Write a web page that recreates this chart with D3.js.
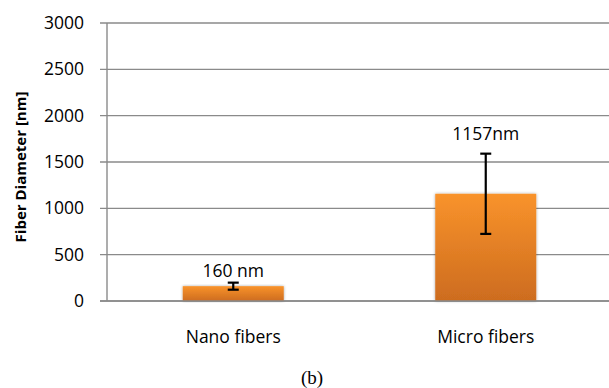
<!DOCTYPE html>
<html>
<head>
<meta charset="utf-8">
<script src="https://cdn.jsdelivr.net/npm/d3@7"></script>
<style>
  body { margin: 0; background: #fff; }
  svg { display: block; }
</style>
</head>
<body>
<div id="chart"></div>
<script>
// values
var categories = ["Nano fibers", "Micro fibers"];
var means = [160, 1157];
var errors = [38, 433];
var barLabels = ["160 nm", "1157nm"];
var yTicks = [0, 500, 1000, 1500, 2000, 2500, 3000];

var W = 609, H = 388;
var plotLeft = 107, plotRight = 612, plotTop = 23, plotBottom = 301;

var svg = d3.select("#chart").append("svg")
  .attr("width", W).attr("height", H);

var defs = svg.append("defs");
var grad = defs.append("linearGradient")
  .attr("id", "barGrad").attr("x1", 0).attr("y1", 0).attr("x2", 0).attr("y2", 1);
grad.append("stop").attr("offset", "0%").attr("stop-color", "#f9932b");
grad.append("stop").attr("offset", "100%").attr("stop-color", "#cd6c1f");

var shadow = defs.append("filter").attr("id", "soft")
  .attr("x", "-10%").attr("y", "-10%").attr("width", "120%").attr("height", "120%");
shadow.append("feGaussianBlur").attr("in", "SourceAlpha").attr("stdDeviation", 1.5).attr("result", "b");
shadow.append("feComponentTransfer").attr("in", "b").attr("result", "s")
  .append("feFuncA").attr("type", "linear").attr("slope", 0.35);
var merge = shadow.append("feMerge");
merge.append("feMergeNode").attr("in", "s");
merge.append("feMergeNode").attr("in", "SourceGraphic");

var x = d3.scaleBand().domain(categories).range([plotLeft, plotRight])
  .paddingInner(0.6).paddingOuter(0.3);
var y = d3.scaleLinear().domain([0, 3000]).range([plotBottom, plotTop]);

// gridlines + ticks
svg.append("g").selectAll("line").data(yTicks).enter().append("line")
  .attr("x1", plotLeft - 7).attr("x2", W)
  .attr("y1", function(d) { return y(d); })
  .attr("y2", function(d) { return y(d); })
  .attr("stroke", "#8a8a8a").attr("stroke-width", 1.4);

// y axis line
svg.append("line")
  .attr("x1", plotLeft).attr("x2", plotLeft).attr("y1", y(3000)).attr("y2", y(0))
  .attr("stroke", "#8a8a8a").attr("stroke-width", 1.4);

// tick labels
svg.append("g").selectAll("text").data(yTicks).enter().append("text")
  .attr("x", 84).attr("y", function(d) { return y(d); })
  .attr("dy", "0.35em").attr("text-anchor", "end")
  .attr("font-family", "Open Sans").attr("font-size", "17.5px")
  .attr("fill", "#000")
  .text(function(d) { return d; });

// bars
svg.append("g").selectAll("rect").data(means).enter().append("rect")
  .attr("x", function(d, i) { return x(categories[i]); })
  .attr("y", function(d) { return y(d); })
  .attr("width", x.bandwidth())
  .attr("height", function(d) { return y(0) - y(d); })
  .attr("fill", "url(#barGrad)")
  .attr("filter", "url(#soft)");

// baseline over bars
svg.append("line")
  .attr("x1", plotLeft - 7).attr("x2", W).attr("y1", y(0)).attr("y2", y(0))
  .attr("stroke", "#8a8a8a").attr("stroke-width", 1.4);

// error bars
var eb = svg.append("g").attr("stroke", "#000").attr("stroke-width", 2.2);
means.forEach(function(m, i) {
  var cx = x(categories[i]) + x.bandwidth() / 2;
  eb.append("line").attr("x1", cx).attr("x2", cx)
    .attr("y1", y(m - errors[i])).attr("y2", y(m + errors[i]));
  [m - errors[i], m + errors[i]].forEach(function(v) {
    eb.append("line").attr("x1", cx - 5.5).attr("x2", cx + 5.5)
      .attr("y1", y(v)).attr("y2", y(v));
  });
});

// value labels
svg.append("g").selectAll("text").data(barLabels).enter().append("text")
  .attr("x", function(d, i) { return x(categories[i]) + x.bandwidth() / 2; })
  .attr("y", function(d, i) { return y(means[i] + errors[i]) - (i == 0 ? 6 : 14); })
  .attr("text-anchor", "middle")
  .attr("font-family", "Open Sans").attr("font-size", "17.5px")
  .text(function(d) { return d; });

// category labels
svg.append("g").selectAll("text").data(categories).enter().append("text")
  .attr("x", function(d) { return x(d) + x.bandwidth() / 2; })
  .attr("y", 343)
  .attr("text-anchor", "middle")
  .attr("font-family", "Open Sans").attr("font-size", "17.5px")
  .text(function(d) { return d; });

// y axis title
svg.append("text")
  .attr("transform", "translate(26," + ((plotTop + plotBottom) / 2 + 5) + ") rotate(-90)")
  .attr("text-anchor", "middle")
  .attr("font-family", "Open Sans").attr("font-weight", "bold").attr("font-size", "15px")
  .text("Fiber Diameter [nm]");

// caption
svg.append("text")
  .attr("x", 312).attr("y", 384)
  .attr("text-anchor", "middle")
  .attr("font-family", "Liberation Serif").attr("font-size", "19px")
  .text("(b)");
</script>
</body>
</html>
